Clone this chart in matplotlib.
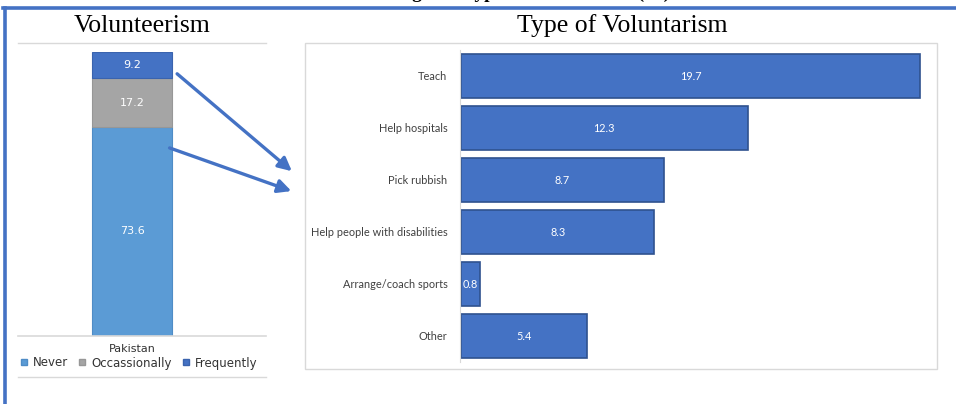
import matplotlib
matplotlib.use("Agg")
import matplotlib.pyplot as plt
from matplotlib.lines import Line2D
from matplotlib.patches import Rectangle, FancyArrowPatch

# left chart: how often people volunteer (stacked, %)
country = ["Pakistan"]
freq_labels = ["Never", "Occassionally", "Frequently"]
freq_values = [73.6, 17.2, 9.2]
freq_colors = ["#5B9BD5", "#A5A5A5", "#4472C4"]
freq_edges = ["#4F8CC6", "#979797", "#3A63AE"]

# right chart: type of voluntarism (%)
types = ["Teach", "Help hospitals", "Pick rubbish",
         "Help people with disabilities", "Arrange/coach sports", "Other"]
type_values = [19.7, 12.3, 8.7, 8.3, 0.8, 5.4]

W, H = 956, 404
BLUE = "#4472C4"
GRID = "#D9D9D9"


def fx(x):
    return x / W


def fy(y):
    return 1 - y / H


def box(l, t, r, b):
    return [fx(l), fy(b), fx(r) - fx(l), fy(t) - fy(b)]


fig = plt.figure(figsize=(W / 100, H / 100), dpi=100)
fig.patch.set_facecolor("white")

# page frame lines
fig.add_artist(Line2D([fx(3), fx(956)], [fy(8), fy(8)], color=BLUE, lw=2.6))
fig.add_artist(Line2D([fx(4.5), fx(4.5)], [fy(8), fy(404)], color=BLUE, lw=2.6))

# caption of the page, mostly cut off at the top edge
fig.text(fx(670), fy(-2), "Volunteering and Type of Voluntarism (%)", ha="right",
         va="baseline", fontsize=14, fontweight="bold", family="Liberation Serif")

# sub titles
fig.text(fx(142), fy(32), "Volunteerism", ha="center", va="baseline",
         fontsize=18.5, family="Liberation Serif")
fig.text(fx(622), fy(32), "Type of Voluntarism", ha="center", va="baseline",
         fontsize=18.5, family="Liberation Serif")

# ---- left stacked bar
ax1 = fig.add_axes(box(18, 52, 266, 336))
bottom = 0
for lab, val, col, ec in zip(freq_labels, freq_values, freq_colors, freq_edges):
    ax1.bar(0, val, width=0.8, bottom=bottom, color=col, edgecolor=ec, lw=0.8)
    ax1.text(0, bottom + val / 2, "{:.1f}".format(val), ha="center", va="center",
             color="white", fontsize=8, family="DejaVu Sans")
    bottom += val
ax1.set_xlim(-1.14, 1.34)
ax1.set_ylim(0, 100)
for s in ["top", "left", "right"]:
    ax1.spines[s].set_visible(False)
ax1.spines["bottom"].set_color(GRID)
ax1.spines["bottom"].set_linewidth(1.2)
ax1.set_yticks([])
ax1.set_xticks([0])
ax1.set_xticklabels(country, fontsize=8, color="#333333", family="DejaVu Sans")
ax1.tick_params(axis="x", length=0, pad=6)

fig.add_artist(Line2D([fx(18), fx(266)], [fy(43), fy(43)], color=GRID, lw=1))
fig.add_artist(Line2D([fx(18), fx(266)], [fy(377), fy(377)], color=GRID, lw=1))

handles = [Line2D([], [], marker="s", ls="none", markersize=5, color=c,
                  markeredgecolor=e) for c, e in zip(freq_colors, freq_edges)]
fig.legend(handles, freq_labels, loc="center", bbox_to_anchor=(fx(139), fy(363)),
           ncol=3, frameon=False, handlelength=0.6, handletextpad=0.45,
           columnspacing=0.9, prop={"family": "DejaVu Sans", "size": 8.5},
           labelcolor="#333333", borderpad=0)

# ---- right horizontal bars
fig.add_artist(Rectangle((fx(305), fy(369)), fx(937) - fx(305), fy(43) - fy(369),
                         transform=fig.transFigure, fill=False, ec=GRID, lw=1))
ax2 = fig.add_axes(box(461, 50, 930, 362))
ypos = list(range(len(types)))
ax2.barh(ypos, type_values, height=0.84, color=BLUE, edgecolor="#2F528F", lw=1.2)
for y, v in zip(ypos, type_values):
    ax2.text(v / 2, y, "{:.1f}".format(v), ha="center", va="center",
             color="white", fontsize=7.8, family="Lato", clip_on=False)
ax2.set_xlim(0, 20.13)
ax2.set_ylim(len(types) - 0.5, -0.5)
for s in ["top", "bottom", "right"]:
    ax2.spines[s].set_visible(False)
ax2.spines["left"].set_color(GRID)
ax2.spines["left"].set_position(("axes", -0.002))
ax2.set_xticks([])
ax2.set_yticks(ypos)
ax2.set_yticklabels(types, fontsize=7.9, color="#404040", family="Lato")
ax2.tick_params(axis="y", length=0, pad=9)

# arrows from the left bar to the right chart
for a, b in [((175, 72), (294, 173)), ((167, 147), (294, 192))]:
    fig.add_artist(FancyArrowPatch((fx(a[0]), fy(a[1])), (fx(b[0]), fy(b[1])),
                                   transform=fig.transFigure, arrowstyle="-|>",
                                   mutation_scale=20, lw=2.4, color=BLUE))

fig.savefig("out.png", dpi=100)
